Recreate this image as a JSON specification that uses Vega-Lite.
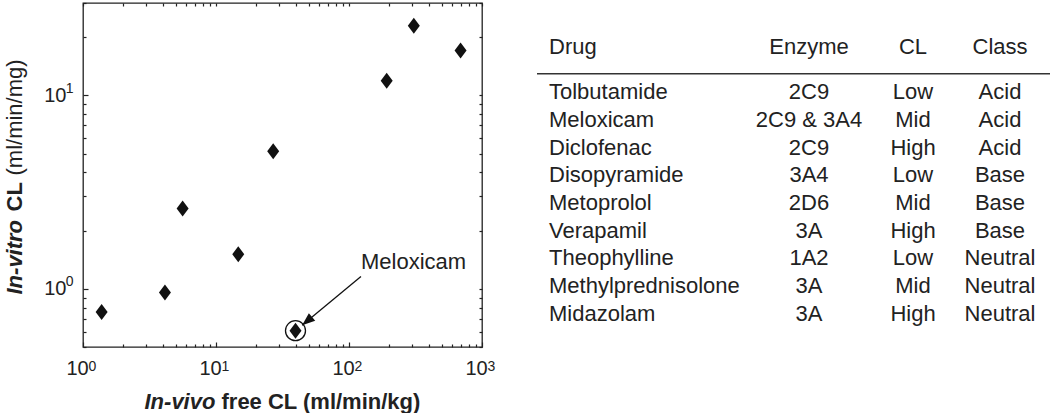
{
  "$schema": "https://vega.github.io/schema/vega-lite/v6.json",
  "padding": {"left": 2, "top": 1, "right": 0, "bottom": 0},
  "background": "white",
  "spacing": 40,
  "config": {
    "font": "Liberation Sans",
    "axis": {
      "domain": false, "grid": false,
      "tickColor": "#222", "tickWidth": 1.2,
      "labelColor": "#222", "titleColor": "#222",
      "labelFont": "Liberation Sans", "titleFont": "Liberation Sans",
      "labelFontSize": 21, "titleFontSize": 22, "titleFontWeight": "bold"
    },
    "text": {"font": "Liberation Sans", "fontSize": 22, "color": "#222"}
  },
  "datasets": {
    "scatter": [
      {"invivo": 1.38, "invitro": 0.758, "drug": ""},
      {"invivo": 4.13, "invitro": 0.957, "drug": ""},
      {"invivo": 5.61, "invitro": 2.6, "drug": ""},
      {"invivo": 14.7, "invitro": 1.51, "drug": ""},
      {"invivo": 26.9, "invitro": 5.14, "drug": ""},
      {"invivo": 39.6, "invitro": 0.607, "drug": "Meloxicam"},
      {"invivo": 192, "invitro": 11.9, "drug": ""},
      {"invivo": 307, "invitro": 22.9, "drug": ""},
      {"invivo": 690, "invitro": 17.06, "drug": ""}
    ],
    "annot": [
      {"drug": "Meloxicam", "fromx": 123, "fromy": 1.157, "tox": 44.4, "toy": 0.647, "labelx": 123, "labely": 1.37}
    ],
    "table": [
      {"r": 0, "c": 0, "text": "Drug"}, {"r": 0, "c": 1, "text": "Enzyme"}, {"r": 0, "c": 2, "text": "CL"}, {"r": 0, "c": 3, "text": "Class"},
      {"r": 1, "c": 0, "text": "Tolbutamide"}, {"r": 1, "c": 1, "text": "2C9"}, {"r": 1, "c": 2, "text": "Low"}, {"r": 1, "c": 3, "text": "Acid"},
      {"r": 2, "c": 0, "text": "Meloxicam"}, {"r": 2, "c": 1, "text": "2C9 & 3A4"}, {"r": 2, "c": 2, "text": "Mid"}, {"r": 2, "c": 3, "text": "Acid"},
      {"r": 3, "c": 0, "text": "Diclofenac"}, {"r": 3, "c": 1, "text": "2C9"}, {"r": 3, "c": 2, "text": "High"}, {"r": 3, "c": 3, "text": "Acid"},
      {"r": 4, "c": 0, "text": "Disopyramide"}, {"r": 4, "c": 1, "text": "3A4"}, {"r": 4, "c": 2, "text": "Low"}, {"r": 4, "c": 3, "text": "Base"},
      {"r": 5, "c": 0, "text": "Metoprolol"}, {"r": 5, "c": 1, "text": "2D6"}, {"r": 5, "c": 2, "text": "Mid"}, {"r": 5, "c": 3, "text": "Base"},
      {"r": 6, "c": 0, "text": "Verapamil"}, {"r": 6, "c": 1, "text": "3A"}, {"r": 6, "c": 2, "text": "High"}, {"r": 6, "c": 3, "text": "Base"},
      {"r": 7, "c": 0, "text": "Theophylline"}, {"r": 7, "c": 1, "text": "1A2"}, {"r": 7, "c": 2, "text": "Low"}, {"r": 7, "c": 3, "text": "Neutral"},
      {"r": 8, "c": 0, "text": "Methylprednisolone"}, {"r": 8, "c": 1, "text": "3A"}, {"r": 8, "c": 2, "text": "Mid"}, {"r": 8, "c": 3, "text": "Neutral"},
      {"r": 9, "c": 0, "text": "Midazolam"}, {"r": 9, "c": 1, "text": "3A"}, {"r": 9, "c": 2, "text": "High"}, {"r": 9, "c": 3, "text": "Neutral"}
    ]
  },
  "hconcat": [
    {
      "width": 399,
      "height": 344,
      "view": {"stroke": "#222", "strokeWidth": 1.3},
      "resolve": {"axis": {"x": "independent", "y": "independent"}},
      "layer": [
        {
          "data": {"name": "scatter"},
          "mark": {"type": "point", "shape": "M0,-1L0.75,0L0,1L-0.75,0Z", "filled": true, "size": 256, "color": "#111", "opacity": 1},
          "encoding": {
            "x": {
              "field": "invivo", "type": "quantitative",
              "scale": {"type": "log", "domain": [1, 1000], "nice": false},
              "axis": {
                "orient": "bottom", "values": [1, 10, 100, 1000],
                "labelExpr": "'10'", "labelFontSize": 20,
                "tickSize": -5, "labelPadding": 16, "labelOffset": -6, "labelFlush": false, "labelOverlap": false,
                "title": "In-vivo", "titleFontStyle": "italic",
                "titleX": 61, "titleY": 61, "titleAlign": "left", "titleBaseline": "alphabetic"
              }
            },
            "y": {
              "field": "invitro", "type": "quantitative",
              "scale": {"type": "log", "domain": [0.5, 30], "nice": false},
              "axis": {
                "orient": "left", "values": [1, 10],
                "labelExpr": "'10'", "labelFontSize": 20,
                "tickSize": -5, "labelPadding": 22, "labelOverlap": false,
                "title": "In-vitro", "titleFontStyle": "italic",
                "titleX": -62, "titleY": 291, "titleAlign": "left", "titleBaseline": "alphabetic", "titleAngle": -90
              }
            }
          }
        },
        {
          "data": {"name": "scatter"},
          "transform": [{"filter": "datum.drug == 'Meloxicam'"}],
          "mark": {"type": "point", "shape": "circle", "filled": false, "size": 400, "stroke": "#111", "strokeWidth": 1.3, "opacity": 1},
          "encoding": {
            "x": {
              "field": "invivo", "type": "quantitative",
              "scale": {"type": "log", "domain": [1, 1000], "nice": false},
              "axis": {
                "orient": "top",
                "values": [1, 2, 3, 4, 5, 6, 7, 8, 9, 10, 20, 30, 40, 50, 60, 70, 80, 90, 100, 200, 300, 400, 500, 600, 700, 800, 900, 1000],
                "tickSize": -3, "labels": false, "title": null
              }
            },
            "y": {
              "field": "invitro", "type": "quantitative",
              "scale": {"type": "log", "domain": [0.5, 30], "nice": false},
              "axis": {
                "orient": "right",
                "values": [0.5, 0.6, 0.7, 0.8, 0.9, 1, 2, 3, 4, 5, 6, 7, 8, 9, 10, 20, 30],
                "tickSize": -3, "labels": false, "title": null
              }
            }
          }
        },
        {
          "data": {"name": "annot"},
          "mark": {"type": "rule", "stroke": "#111", "strokeWidth": 1.3},
          "encoding": {
            "x": {
              "field": "fromx", "type": "quantitative",
              "scale": {"type": "log", "domain": [1, 1000], "nice": false},
              "axis": {
                "orient": "bottom",
                "values": [2, 3, 4, 5, 6, 7, 8, 9, 20, 30, 40, 50, 60, 70, 80, 90, 200, 300, 400, 500, 600, 700, 800, 900],
                "tickSize": -3, "labels": false,
                "title": "free CL (ml/min/kg)",
                "titleX": 138, "titleY": 61, "titleAlign": "left", "titleBaseline": "alphabetic"
              }
            },
            "y": {
              "field": "fromy", "type": "quantitative",
              "scale": {"type": "log", "domain": [0.5, 30], "nice": false},
              "axis": {
                "orient": "left",
                "values": [0.5, 0.6, 0.7, 0.8, 0.9, 2, 3, 4, 5, 6, 7, 8, 9, 20, 30],
                "tickSize": -3, "labels": false,
                "title": "CL",
                "titleX": -62, "titleY": 208, "titleAlign": "left", "titleBaseline": "alphabetic", "titleAngle": -90
              }
            },
            "x2": {"field": "tox"},
            "y2": {"field": "toy"}
          }
        },
        {
          "data": {"name": "annot"},
          "mark": {"type": "point", "shape": "M0,0L0.38,1L-0.38,1Z", "angle": 230, "size": 676, "filled": true, "color": "#111", "opacity": 1},
          "encoding": {
            "x": {
              "field": "tox", "type": "quantitative",
              "scale": {"type": "log", "domain": [1, 1000], "nice": false},
              "axis": null
            },
            "y": {
              "field": "toy", "type": "quantitative",
              "scale": {"type": "log", "domain": [0.5, 30], "nice": false},
              "axis": {
                "orient": "left", "ticks": false, "labels": false,
                "title": "(ml/min/mg)", "titleFontWeight": "normal",
                "titleX": -62, "titleY": 172, "titleAlign": "left", "titleBaseline": "alphabetic", "titleAngle": -90
              }
            }
          }
        },
        {
          "data": {"name": "annot"},
          "mark": {"type": "text", "align": "left", "baseline": "middle", "fontSize": 22, "color": "#222"},
          "encoding": {
            "x": {
              "field": "labelx", "type": "quantitative",
              "scale": {"type": "log", "domain": [1, 1000], "nice": false},
              "axis": {
                "orient": "bottom", "values": [1, 10, 100, 1000],
                "labelExpr": "format(log(datum.value) / LN10, '.0f')",
                "ticks": false, "labelFontSize": 14, "labelPadding": 12, "labelOffset": 9,
                "labelFlush": false, "labelOverlap": false, "title": null
              }
            },
            "y": {
              "field": "labely", "type": "quantitative",
              "scale": {"type": "log", "domain": [0.5, 30], "nice": false},
              "axis": {
                "orient": "left", "values": [1, 10],
                "labelExpr": "format(log(datum.value) / LN10, '.0f')",
                "ticks": false, "labelFontSize": 14, "labelPadding": 10, "labelOffset": -7,
                "labelOverlap": false, "title": null
              }
            },
            "text": {"field": "drug"}
          }
        }
      ]
    },
    {
      "width": 513,
      "height": 344,
      "view": {"stroke": null},
      "layer": [
        {
          "data": {"values": [{}]},
          "mark": {"type": "rule", "stroke": "#333", "strokeWidth": 1.5},
          "encoding": {
            "y": {
              "datum": 0.59, "type": "quantitative",
              "scale": {"type": "linear", "domain": [0, 1, 9], "range": [44, 89.2, 310.5], "zero": false, "nice": false},
              "axis": null
            }
          }
        },
        {
          "data": {"name": "table"},
          "transform": [{"filter": "datum.c == 0"}],
          "mark": {"type": "text", "align": "left", "baseline": "middle", "fontSize": 22, "color": "#222"},
          "encoding": {
            "x": {
              "field": "c", "type": "quantitative",
              "scale": {"type": "linear", "domain": [0, 1, 2, 3], "range": [12, 272, 376, 463], "zero": false, "nice": false},
              "axis": null
            },
            "y": {
              "field": "r", "type": "quantitative",
              "scale": {"type": "linear", "domain": [0, 1, 9], "range": [44, 89.2, 310.5], "zero": false, "nice": false},
              "axis": null
            },
            "text": {"field": "text"}
          }
        },
        {
          "data": {"name": "table"},
          "transform": [{"filter": "datum.c > 0"}],
          "mark": {"type": "text", "align": "center", "baseline": "middle", "fontSize": 22, "color": "#222"},
          "encoding": {
            "x": {
              "field": "c", "type": "quantitative",
              "scale": {"type": "linear", "domain": [0, 1, 2, 3], "range": [12, 272, 376, 463], "zero": false, "nice": false},
              "axis": null
            },
            "y": {
              "field": "r", "type": "quantitative",
              "scale": {"type": "linear", "domain": [0, 1, 9], "range": [44, 89.2, 310.5], "zero": false, "nice": false},
              "axis": null
            },
            "text": {"field": "text"}
          }
        }
      ]
    }
  ]
}
